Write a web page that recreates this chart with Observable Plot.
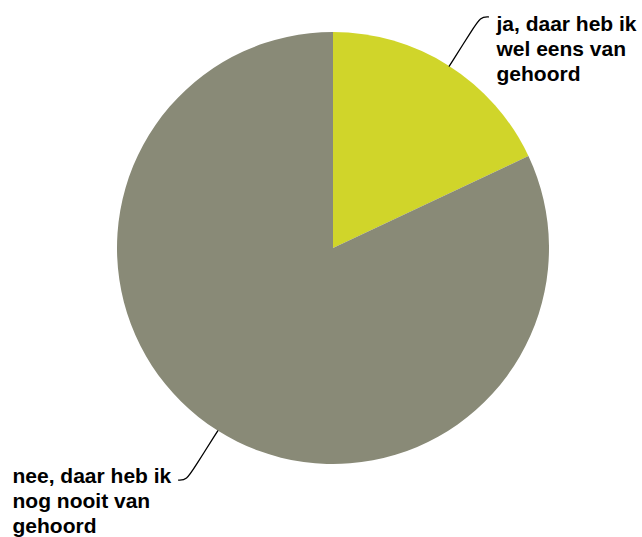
<!DOCTYPE html>
<html>
<head>
<meta charset="utf-8">
<script src="https://cdn.jsdelivr.net/npm/d3@7"></script>
<script src="https://cdn.jsdelivr.net/npm/@observablehq/plot@0.6"></script>
<style>
  html, body { margin: 0; padding: 0; background: #fff; }
  #chart { width: 642px; height: 537px; }
</style>
</head>
<body>
<div id="chart"></div>
<script>
// Data
const categories = ["ja, daar heb ik wel eens van gehoord", "nee, daar heb ik nog nooit van gehoord"];
const labels = ["ja, daar heb ik\nwel eens van\ngehoord", "nee, daar heb ik\nnog nooit van\ngehoord"];
const values = [18, 82];
const colors = ["#d0d52a", "#898a77"];

const W = 642, H = 537;
const cx = 333, cy = 248, R = 216;

const table = categories.map((c, i) => ({category: c, label: labels[i], value: values[i], color: colors[i]}));
const arcs = d3.pie().sort(null).value(d => d.value)(table);

// leader lines computed from slice mid-angles
const leaders = [];
const labelPts = [];
arcs.forEach((a, i) => {
  const mid = (a.startAngle + a.endAngle) / 2;
  const sx = Math.sin(mid), sy = -Math.cos(mid);
  const side = sx >= 0 ? 1 : -1;
  const p0 = [cx + sx * R, cy + sy * R];
  const p1 = [cx + sx * R * 1.2, cy + sy * R * 1.2];
  const p2 = [cx + sx * R * 1.27, cy + sy * R * 1.27];
  const p3 = [p2[0] + side * 8, p2[1]];
  [p0, p1, p2, p3].forEach(p => leaders.push({x: p[0], y: p[1], k: i}));
  labelPts.push({x: p3[0] + side * 12, y: p3[1], text: a.data.label, side});
});

const pieMark = (index, scales, values, dimensions, context) => {
  const g = d3.create("svg:g");
  const arcGen = d3.arc().innerRadius(0).outerRadius(R);
  g.selectAll("path").data(arcs).join("path")
    .attr("transform", `translate(${scales.x(cx)},${scales.y(cy)})`)
    .attr("d", arcGen)
    .attr("fill", d => d.data.color);
  return g.node();
};

const textOpts = {
  x: "x", y: "y", text: "text",
  lineAnchor: "top",
  lineHeight: 1.2,
  fontSize: 21, fontWeight: "bold", fill: "#000",
  textAnchor: "start"
};

const chart = Plot.plot({
  width: W,
  height: H,
  margin: 0,
  x: {domain: [0, W], axis: null},
  y: {domain: [0, H], axis: null, reverse: true},
  style: {fontFamily: "'Liberation Sans', Arial, sans-serif", background: "#fff"},
  marks: [
    pieMark,
    Plot.line(leaders, {x: "x", y: "y", z: "k", stroke: "#000", strokeWidth: 1.3, curve: "basis"}),
    Plot.text(labelPts.filter(d => d.side > 0), {...textOpts, dx: -4, dy: -4}),
    Plot.text(labelPts.filter(d => d.side < 0), {...textOpts, dx: -154, dy: -15})
  ]
});
document.getElementById("chart").append(chart);
</script>
</body>
</html>
